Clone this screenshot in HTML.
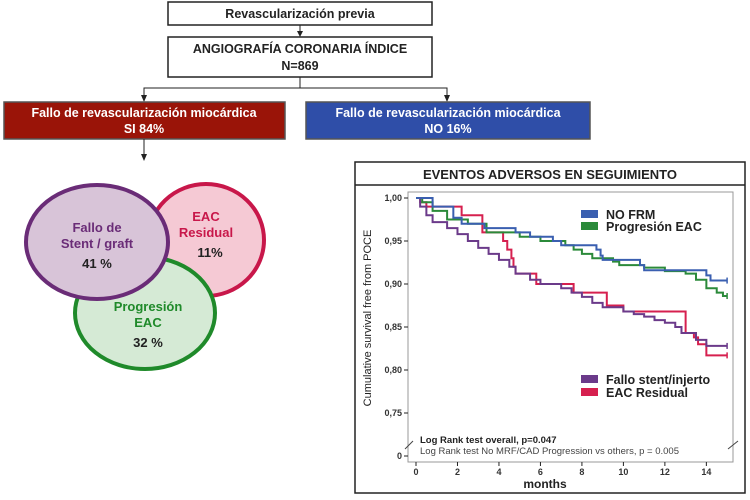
<!DOCTYPE html>
<html><head><meta charset="utf-8">
<style>
body{margin:0;width:750px;height:500px;background:#fff;overflow:hidden;font-family:"Liberation Sans",sans-serif;}
svg{position:absolute;left:0;top:0}
</style></head>
<body>
<svg width="750" height="500" xmlns="http://www.w3.org/2000/svg">
<g font-weight="bold" font-size="12.5" text-anchor="middle">
 <rect x="168" y="2" width="264" height="23" fill="#fff" stroke="#222" stroke-width="1.5"/>
 <text x="300" y="18" fill="#222">Revascularización previa</text>
 <line x1="300" y1="25" x2="300" y2="32" stroke="#222"/>
 <polygon points="297,31 303,31 300,37" fill="#222"/>
 <rect x="168" y="37" width="264" height="40" fill="#fff" stroke="#222" stroke-width="1.5"/>
 <text x="300" y="53" fill="#222">ANGIOGRAFÍA CORONARIA ÍNDICE</text>
 <text x="300" y="70" fill="#222">N=869</text>
 <polyline points="300,77 300,88" fill="none" stroke="#222"/>
 <polyline points="144,96 144,88 447,88 447,96" fill="none" stroke="#222"/>
 <polygon points="141,95 147,95 144,102" fill="#222"/>
 <polygon points="444,95 450,95 447,102" fill="#222"/>
 <rect x="4" y="102" width="281" height="37" fill="#9a1408" stroke="#555" stroke-width="1.5"/>
 <text x="144" y="117" fill="#fff">Fallo de revascularización miocárdica</text>
 <text x="144" y="133" fill="#fff">SI 84%</text>
 <rect x="306" y="102" width="284" height="37" fill="#2f4ea8" stroke="#555" stroke-width="1.5"/>
 <text x="448" y="117" fill="#fff">Fallo de revascularización miocárdica</text>
 <text x="448" y="133" fill="#fff">NO 16%</text>
 <line x1="144" y1="139" x2="144" y2="155" stroke="#222"/>
 <polygon points="141,154 147,154 144,161" fill="#222"/>
</g>
<g font-weight="bold" font-size="13" text-anchor="middle">
 <ellipse cx="206" cy="240" rx="58" ry="56" fill="#f5c9d4" stroke="#c8174a" stroke-width="4"/>
 <ellipse cx="145" cy="313" rx="70" ry="56" fill="#d5ead5" stroke="#1f8a2a" stroke-width="4"/>
 <ellipse cx="97" cy="242" rx="71" ry="57" fill="#d8c4d8" stroke="#6a2c77" stroke-width="4"/>
 <text x="97" y="232" fill="#6a2c77">Fallo de</text>
 <text x="97" y="248" fill="#6a2c77">Stent / graft</text>
 <text x="97" y="268" fill="#222">41 %</text>
 <text x="206" y="221" fill="#c8174a">EAC</text>
 <text x="206" y="237" fill="#c8174a">Residual</text>
 <text x="210" y="257" fill="#222">11%</text>
 <text x="148" y="311" fill="#1f8a2a">Progresión</text>
 <text x="148" y="327" fill="#1f8a2a">EAC</text>
 <text x="148" y="347" fill="#222">32 %</text>
</g>
<g>
 <rect x="355" y="162" width="390" height="331" fill="#fff" stroke="#222" stroke-width="1.5"/>
 <line x1="355" y1="185" x2="745" y2="185" stroke="#222" stroke-width="1.5"/>
 <text x="550" y="179" text-anchor="middle" font-weight="bold" font-size="13" fill="#222">EVENTOS ADVERSOS EN SEGUIMIENTO</text>
 <rect x="408" y="192" width="325" height="270" fill="#fff" stroke="#999" stroke-width="1"/>
 <g id="axes"></g>
 <g id="series"></g>
 <g font-weight="bold" font-size="12.5" fill="#222">
  <rect x="581" y="210" width="17" height="8" fill="#3a5fb0"/>
  <text x="606" y="219">NO FRM</text>
  <rect x="581" y="222" width="17" height="8" fill="#2b8a3a"/>
  <text x="606" y="231">Progresión EAC</text>
  <rect x="581" y="375" width="17" height="8" fill="#6b3a8a"/>
  <text x="606" y="384">Fallo stent/injerto</text>
  <rect x="581" y="388" width="17" height="8" fill="#d6204f"/>
  <text x="606" y="397">EAC Residual</text>
 </g>
 <text x="420" y="443" font-size="9.5" font-weight="bold" fill="#222">Log Rank test overall, p=0.047</text>
 <text x="420" y="454" font-size="9.5" fill="#444">Log Rank test No MRF/CAD Progression vs others, p = 0.005</text>
 <text x="545" y="488" text-anchor="middle" font-weight="bold" font-size="12" fill="#222">months</text>
 <text transform="translate(371,318) rotate(-90)" text-anchor="middle" font-size="11" fill="#222">Cumulative survival free from POCE</text>
</g>
</svg>
<script>
const months=[0,2,4,6,8,10,12,14];
const yTicks=[1.00,0.95,0.90,0.85,0.80,0.75];
const yTickLabels=["1,00","0,95","0,90","0,85","0,80","0,75"];
const noFrmT=[0,0.8,1.8,2.2,3.3,4.8,5.5,6.6,7.0,8.7,8.9,9.0,10.8,11.0,14.0,14.2,15];
const noFrmS=[1,0.99,0.977,0.97,0.965,0.96,0.955,0.95,0.945,0.94,0.933,0.928,0.922,0.916,0.91,0.904,0.904];
const progT=[0,0.3,0.8,1.5,2.5,3.4,5.0,6.0,7.2,7.6,8.0,8.5,9.5,9.8,11.0,12.0,13.0,13.5,14.0,14.5,14.8,15];
const progS=[1,0.995,0.985,0.975,0.97,0.96,0.955,0.95,0.945,0.94,0.935,0.93,0.926,0.922,0.919,0.915,0.912,0.905,0.895,0.89,0.886,0.886];
const resT=[0,0.2,0.5,2.2,3.2,4.2,4.4,4.6,4.7,4.8,5.8,7.6,9.2,10.0,13.0,13.4,13.6,14.0,15];
const resS=[1,0.995,0.99,0.98,0.96,0.95,0.94,0.93,0.92,0.912,0.90,0.89,0.875,0.868,0.843,0.838,0.83,0.817,0.817];
const falT=[0,0.2,0.5,0.8,1.5,2.0,2.5,3.0,3.5,4.0,4.5,4.8,5.5,6.0,7.0,7.5,8.0,8.5,9.0,10.0,10.5,11.0,11.5,12.0,12.5,12.8,13.5,14.0,15];
const falS=[1,0.99,0.98,0.972,0.965,0.958,0.95,0.942,0.935,0.928,0.92,0.912,0.905,0.9,0.895,0.89,0.885,0.878,0.873,0.868,0.865,0.862,0.858,0.855,0.85,0.843,0.835,0.828,0.828];
const NS='http://www.w3.org/2000/svg';
function xS(m){return 416+m*20.74;}
function yS(v){return 198+(1-v)/0.05*43;}
const axes=document.getElementById('axes');
function mk(t,a,p){const e=document.createElementNS(NS,t);for(const k in a)e.setAttribute(k,a[k]);(p||axes).appendChild(e);return e;}
yTicks.forEach((v,i)=>{
 const t=mk('line',{x1:404,x2:408,y1:yS(v),y2:yS(v),stroke:'#222'});
 
 
 const l=mk('text',{x:402,y:yS(v)+3,'text-anchor':'end','font-size':9,'font-weight':'bold',fill:'#333'});
 l.textContent=yTickLabels[i];
 
 
});
const z=mk('text',{x:402,y:459,'text-anchor':'end','font-size':9,'font-weight':'bold',fill:'#333'});z.textContent='0';


mk('line',{x1:404,x2:408,y1:456,y2:456,stroke:'#222'});
mk('line',{x1:405,x2:413,y1:449,y2:441,stroke:'#444'});
mk('line',{x1:728,x2:738,y1:449,y2:441,stroke:'#444'});
months.forEach(m=>{
 mk('line',{x1:xS(m),x2:xS(m),y1:462,y2:466,stroke:'#222'});
 const l=mk('text',{x:xS(m),y:475,'text-anchor':'middle','font-size':9,'font-weight':'bold',fill:'#333'});
 l.textContent=m;
 
 
});
const ser=document.getElementById('series');
function step(T,S,col,name){
 let d='M'+xS(T[0])+','+yS(S[0]);
 for(let i=1;i<T.length;i++){d+=' H'+xS(T[i])+' V'+yS(S[i]);}
 const p=mk('path',{d:d,fill:'none',stroke:col,'stroke-width':2},ser);
 
 
 const n=T.length-1;
 mk('line',{x1:xS(T[n]),x2:xS(T[n]),y1:yS(S[n])-3,y2:yS(S[n])+3,stroke:col,'stroke-width':1.5},ser);
}
step(resT,resS,'#d6204f','series-eac-residual');
step(falT,falS,'#6b3a8a','series-fallo-stent');
step(progT,progS,'#2b8a3a','series-progresion-eac');
step(noFrmT,noFrmS,'#3a5fb0','series-no-frm');
</script>
</body></html>
